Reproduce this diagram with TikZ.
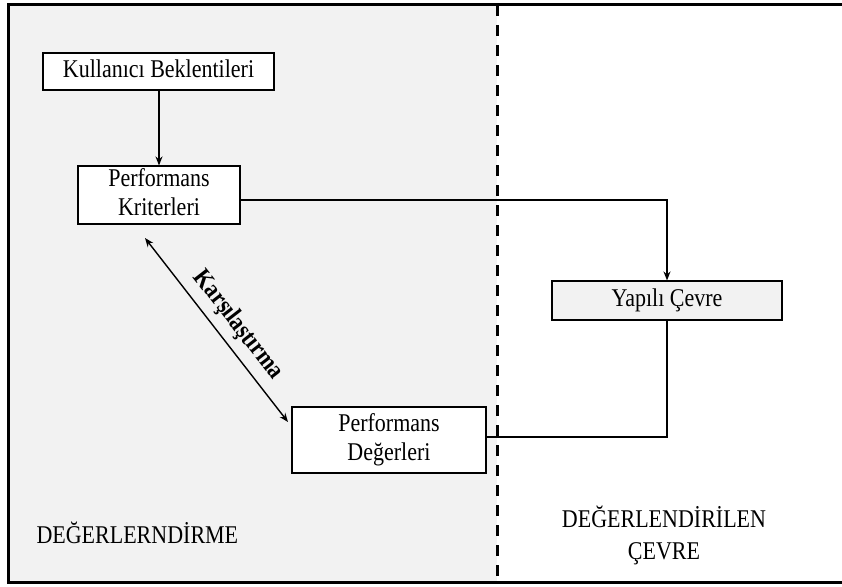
\documentclass[tikz,border=0pt]{standalone}
\usepackage{fontspec}
\usepackage{graphicx}
\setmainfont{Liberation Serif}
\usetikzlibrary{arrows.meta}
\definecolor{panel}{HTML}{F2F2F2}
% text set a little taller than wide
\newcommand{\talltext}[1]{\scalebox{1}[1.16]{\begin{tabular}{@{}c@{}}#1\end{tabular}}}
\tikzset{
  box/.style={draw=black, line width=1.1pt, fill=white, align=center, font=\fontsize{22}{25}\selectfont, inner sep=0pt},
  link/.style={line width=1.4pt},
  arr/.style={link, -{Stealth[length=9pt,width=7pt]}},
  lbl/.style={font=\fontsize{22}{28}\selectfont, align=center}
}
\begin{document}
\begin{tikzpicture}[x=1pt,y=-1pt]
\useasboundingbox (0,0) rectangle (842,586);
% panels
\fill[panel] (8,5) rectangle (497,582);
\fill[white] (497,5) rectangle (842,582);
\draw[line width=3pt] (842,5) -- (8,5) -- (8,582) -- (842,582);
\draw[line width=3pt, dash pattern=on 11pt off 9pt] (497,5) -- (497,582);
% boxes
\node[box, minimum width=231pt, minimum height=37pt] (kb) at (158.5,71.5) {\talltext{Kullanıcı Beklentileri}};
\node[box, minimum width=162pt, minimum height=56pt] (pk) at (159,195) {\talltext{Performans\\Kriterleri}};
\node[box, fill=panel, minimum width=230pt, minimum height=39pt] (yc) at (667,300.5) {\talltext{Yapılı Çevre}};
\node[box, minimum width=194pt, minimum height=66pt] (pd) at (389,440) {\talltext{Performans\\Değerleri}};
% connectors
\draw[arr] (kb.south -| pk.north) -- (pk.north);
\draw[arr] (pk.east |- 0,200) -| (yc.north);
\draw[link] (yc.south) |- (pd.east |- 0,437);
\coordinate (c1) at (145,238);
\coordinate (c2) at (288,422);
\draw[link, {Stealth[length=9pt,width=7pt]}-{Stealth[length=9pt,width=7pt]}] (c1) -- (c2)
  node[pos=0.54, sloped, above=1pt, font=\bfseries\fontsize{22}{25}\selectfont] (cmp) {\talltext{Karşılaştırma}};
% region labels
\node[lbl, anchor=west] (ev) at (33,537) {\talltext{DEĞERLERNDİRME}};
\node[lbl] (ec) at (664,537) {\talltext{DEĞERLENDİRİLEN\\ÇEVRE}};
\end{tikzpicture}
\end{document}
